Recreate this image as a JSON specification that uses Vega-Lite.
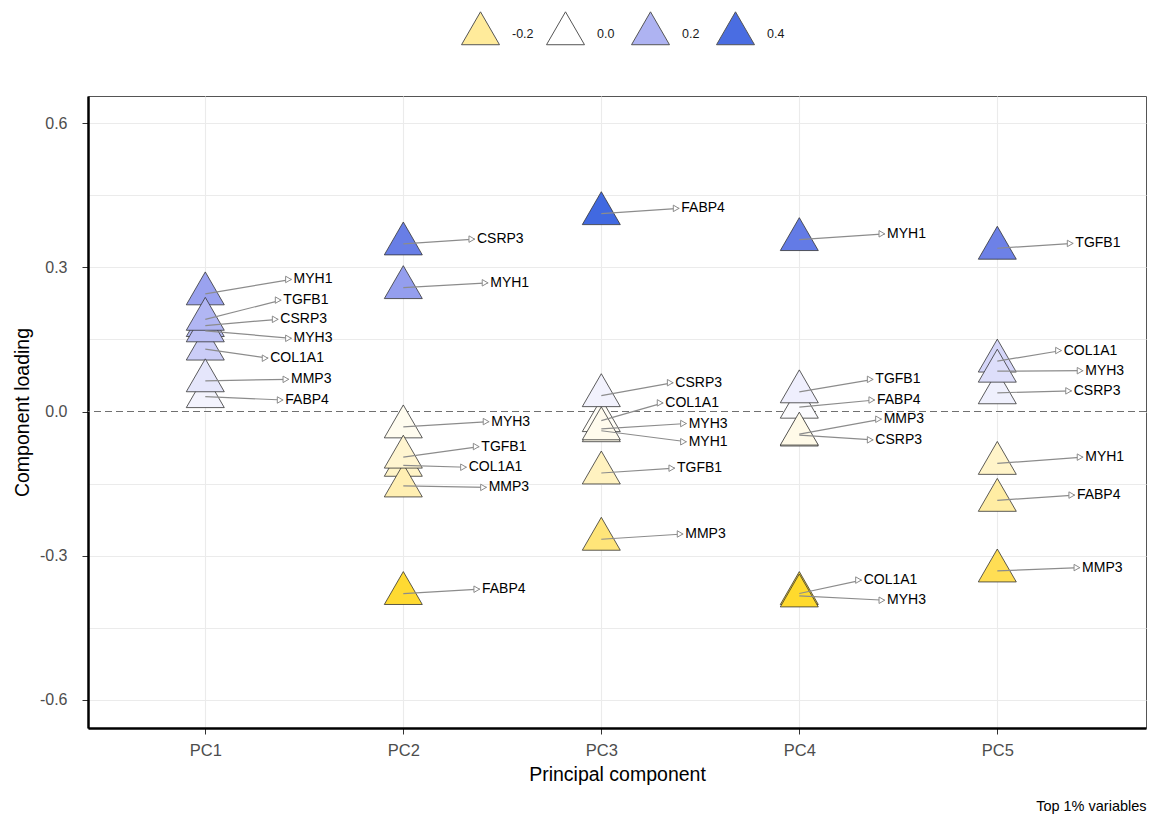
{
  "$schema": "https://vega.github.io/schema/vega-lite/v6.json",
  "width": 1058,
  "height": 632,
  "autosize": {"type": "none"},
  "padding": {"left": 88, "top": 96, "right": 3, "bottom": 91},
  "background": "white",
  "config": {
    "font": "Liberation Sans",
    "view": {"stroke": "#555555", "strokeWidth": 1}
  },
  "title": {
    "text": "Top 1% variables",
    "orient": "bottom",
    "anchor": "end",
    "fontSize": 14.5,
    "fontWeight": "normal",
    "color": "#000000",
    "offset": 16
  },
  "data": {
    "values": [
      {"pc": 1, "gene": "COL1A1", "loading": 0.130, "lx": 1.318, "ly": 0.111},
      {"pc": 1, "gene": "CSRP3", "loading": 0.179, "lx": 1.369, "ly": 0.192},
      {"pc": 1, "gene": "FABP4", "loading": 0.031, "lx": 1.394, "ly": 0.024},
      {"pc": 1, "gene": "MMP3", "loading": 0.064, "lx": 1.423, "ly": 0.067},
      {"pc": 1, "gene": "MYH1", "loading": 0.245, "lx": 1.436, "ly": 0.275},
      {"pc": 1, "gene": "MYH3", "loading": 0.168, "lx": 1.436, "ly": 0.1525},
      {"pc": 1, "gene": "TGFB1", "loading": 0.192, "lx": 1.384, "ly": 0.232},
      {"pc": 2, "gene": "COL1A1", "loading": -0.112, "lx": 2.320, "ly": -0.116},
      {"pc": 2, "gene": "CSRP3", "loading": 0.349, "lx": 2.362, "ly": 0.359},
      {"pc": 2, "gene": "FABP4", "loading": -0.379, "lx": 2.387, "ly": -0.370},
      {"pc": 2, "gene": "MMP3", "loading": -0.155, "lx": 2.421, "ly": -0.158},
      {"pc": 2, "gene": "MYH1", "loading": 0.258, "lx": 2.429, "ly": 0.268},
      {"pc": 2, "gene": "MYH3", "loading": -0.032, "lx": 2.434, "ly": -0.021},
      {"pc": 2, "gene": "TGFB1", "loading": -0.095, "lx": 2.384, "ly": -0.073},
      {"pc": 3, "gene": "COL1A1", "loading": -0.019, "lx": 3.313, "ly": 0.018},
      {"pc": 3, "gene": "CSRP3", "loading": 0.033, "lx": 3.364, "ly": 0.060},
      {"pc": 3, "gene": "FABP4", "loading": 0.412, "lx": 3.394, "ly": 0.423},
      {"pc": 3, "gene": "MMP3", "loading": -0.266, "lx": 3.414, "ly": -0.255},
      {"pc": 3, "gene": "MYH1", "loading": -0.040, "lx": 3.431, "ly": -0.063},
      {"pc": 3, "gene": "MYH3", "loading": -0.036, "lx": 3.431, "ly": -0.025},
      {"pc": 3, "gene": "TGFB1", "loading": -0.128, "lx": 3.372, "ly": -0.118},
      {"pc": 4, "gene": "COL1A1", "loading": -0.379, "lx": 4.315, "ly": -0.351},
      {"pc": 4, "gene": "CSRP3", "loading": -0.049, "lx": 4.374, "ly": -0.059},
      {"pc": 4, "gene": "FABP4", "loading": 0.009, "lx": 4.382, "ly": 0.024},
      {"pc": 4, "gene": "MMP3", "loading": -0.047, "lx": 4.416, "ly": -0.016},
      {"pc": 4, "gene": "MYH1", "loading": 0.358, "lx": 4.433, "ly": 0.370},
      {"pc": 4, "gene": "MYH3", "loading": -0.384, "lx": 4.433, "ly": -0.393},
      {"pc": 4, "gene": "TGFB1", "loading": 0.041, "lx": 4.374, "ly": 0.067},
      {"pc": 5, "gene": "COL1A1", "loading": 0.105, "lx": 5.325, "ly": 0.127},
      {"pc": 5, "gene": "CSRP3", "loading": 0.039, "lx": 5.376, "ly": 0.043},
      {"pc": 5, "gene": "FABP4", "loading": -0.185, "lx": 5.392, "ly": -0.174},
      {"pc": 5, "gene": "MMP3", "loading": -0.332, "lx": 5.418, "ly": -0.325},
      {"pc": 5, "gene": "MYH1", "loading": -0.108, "lx": 5.434, "ly": -0.095},
      {"pc": 5, "gene": "MYH3", "loading": 0.084, "lx": 5.434, "ly": 0.085},
      {"pc": 5, "gene": "TGFB1", "loading": 0.340, "lx": 5.384, "ly": 0.350}
    ]
  },
  "layer": [
    {
      "mark": {"type": "rule", "color": "#707070", "strokeDash": [7, 4], "strokeWidth": 1.1},
      "encoding": {
        "y": {
          "datum": 0, "type": "quantitative",
          "scale": {"domain": [-0.659, 0.657], "nice": false, "zero": false},
          "axis": {
            "values": [-0.6, -0.45, -0.3, -0.15, 0, 0.15, 0.3, 0.45, 0.6],
            "labelExpr": "round(datum.value * 100) % 30 == 0 ? (datum.value < -0.001 ? '-' + format(-datum.value, '.1f') : format(abs(datum.value), '.1f')) : ''",
            "title": "Component loading",
            "grid": true,
            "labelFontSize": 16,
            "labelColor": "#4d4d4d",
            "labelPadding": 15,
            "tickColor": "#333333",
            "tickSize": 6,
            "tickOpacity": {"condition": {"test": "round(datum.value * 100) % 30 == 0", "value": 1}, "value": 0},
            "gridColor": {"condition": {"test": "abs(datum.value) < 0.001", "value": "#ffffff"}, "value": "#ebebeb"},
            "gridWidth": 1.1,
            "domainColor": "#000000",
            "domainWidth": 2.5,
            "titleFontSize": 19.5,
            "titleFontWeight": "normal",
            "titleColor": "#000000",
            "titlePadding": 7
          }
        }
      }
    },
    {
      "mark": {"type": "point", "shape": "M0,-1.155L1,0.577L-1,0.577Z", "filled": true, "size": 1444, "stroke": "#333333", "strokeWidth": 0.8, "opacity": 1},
      "encoding": {
        "x": {
          "field": "pc", "type": "quantitative",
          "scale": {"domain": [0.4076, 5.751], "nice": false, "zero": false},
          "axis": {
            "values": [1, 2, 3, 4, 5],
            "labelExpr": "'PC' + datum.value",
            "title": "Principal component",
            "grid": true,
            "labelFontSize": 16.5,
            "labelColor": "#4d4d4d",
            "labelPadding": 8,
            "labelFlush": false,
            "tickColor": "#333333",
            "tickSize": 6,
            "domainColor": "#000000",
            "domainWidth": 2.5,
            "gridColor": "#ebebeb",
            "gridWidth": 1.1,
            "titleFontSize": 19.5,
            "titleFontWeight": "normal",
            "titleColor": "#000000",
            "titlePadding": 7
          }
        },
        "y": {
          "field": "loading", "type": "quantitative",
          "scale": {"domain": [-0.659, 0.657], "nice": false, "zero": false}
        },
        "fill": {
          "field": "loading", "type": "quantitative",
          "scale": {"type": "linear", "domain": [-0.412, 0, 0.412], "range": ["#FFD700", "#FFFFFF", "#4169E1"], "interpolate": "lab", "clamp": true},
          "legend": {
            "type": "symbol",
            "values": [-0.2, 0, 0.2, 0.4],
            "labelExpr": "datum.value < -0.001 ? '-' + format(-datum.value, '.1f') : format(abs(datum.value), '.1f')",
            "title": null,
            "orient": "none",
            "legendX": 373,
            "legendY": -82,
            "direction": "horizontal",
            "padding": 0,
            "symbolType": "M0,-1.155L1,0.577L-1,0.577Z",
            "symbolSize": 1444,
            "symbolStrokeColor": "#555555",
            "symbolStrokeWidth": 1,
            "labelFontSize": 12.5,
            "labelColor": "#1a1a1a",
            "labelOffset": 12,
            "columnPadding": 10,
            "gridAlign": "all"
          }
        }
      }
    },
    {
      "mark": {"type": "rule", "color": "#8c8c8c", "strokeWidth": 1.2},
      "encoding": {
        "x": {"field": "pc", "type": "quantitative"},
        "y": {"field": "loading", "type": "quantitative"},
        "x2": {"field": "lx"},
        "y2": {"field": "ly"}
      }
    },
    {
      "mark": {"type": "point", "shape": "triangle-right", "filled": true, "fill": "#ffffff", "stroke": "#8c8c8c", "strokeWidth": 1, "size": 42, "xOffset": -3.2, "opacity": 1},
      "encoding": {
        "x": {"field": "lx", "type": "quantitative"},
        "y": {"field": "ly", "type": "quantitative"}
      }
    },
    {
      "mark": {"type": "text", "align": "left", "baseline": "middle", "dx": 2, "fontSize": 14, "color": "#000000"},
      "encoding": {
        "x": {"field": "lx", "type": "quantitative"},
        "y": {"field": "ly", "type": "quantitative"},
        "text": {"field": "gene"}
      }
    }
  ]
}
